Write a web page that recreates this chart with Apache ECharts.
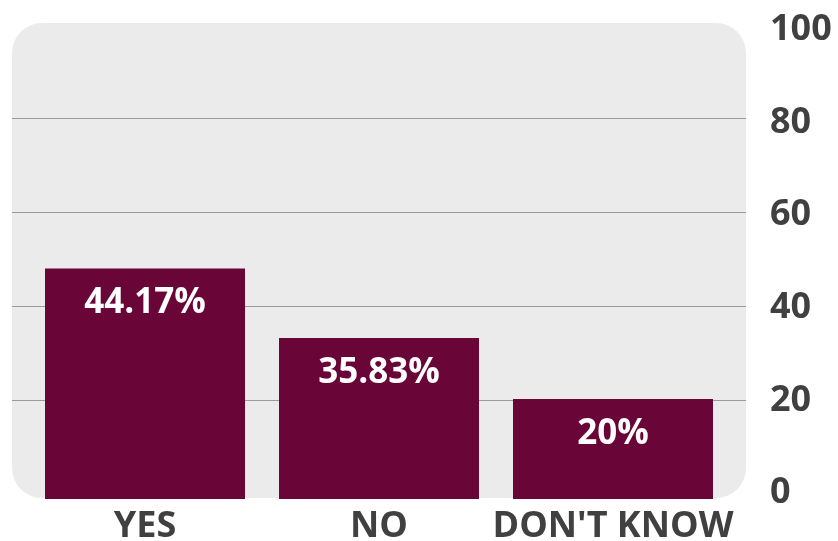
<!DOCTYPE html>
<html><head><meta charset="utf-8">
<script src="https://cdn.jsdelivr.net/npm/echarts@6/dist/echarts.min.js"></script>
<style>html,body{margin:0;padding:0;background:#fff}#c{width:838px;height:541px}</style>
</head><body><div id="c"></div>
<script>
const categories = ['YES', 'NO', "DON'T KNOW"];
const barValues = [48.4, 33.8, 21.0];
const labelTexts = ['44.17%', '35.83%', '20%'];
const yTicks = [0, 20, 40, 60, 80, 100];

const chart = echarts.init(document.getElementById('c'));
const FONT = '"Open Sans", "Liberation Sans", sans-serif';
const yMin = yTicks[0], yMax = yTicks[yTicks.length - 1];
chart.setOption({
  animation: false,
  graphic: [{
    type: 'rect', z: -10, silent: true,
    shape: { x: 12, y: 23, width: 734, height: 475, r: 30 },
    style: { fill: '#ebebeb' }
  }],
  grid: [
    { left: 12, top: 24, width: 734, height: 470, outerBoundsMode: 'none', containLabel: false },
    { left: 28, top: 23, width: 702, height: 476, outerBoundsMode: 'none', containLabel: false },
    { left: 12, top: 30, width: 734, height: 463, outerBoundsMode: 'none', containLabel: false }
  ],
  xAxis: [
    { type: 'category', gridIndex: 0, data: categories, show: false },
    { type: 'category', gridIndex: 1, data: categories,
      axisLine: { show: false }, axisTick: { show: false },
      axisLabel: { color: '#404040', fontFamily: FONT, fontWeight: 'bold', fontSize: 36, margin: 10, interval: 0 } },
    { type: 'category', gridIndex: 2, data: categories, show: false }
  ],
  yAxis: [
    { type: 'value', gridIndex: 0, min: yMin, max: yMax, interval: 20,
      axisLine: { show: false }, axisTick: { show: false }, axisLabel: { show: false },
      splitLine: { show: true, lineStyle: { width: 1, color: ['transparent', '#9a9a9a', '#9a9a9a', '#9a9a9a', '#9a9a9a', 'transparent'] } } },
    { type: 'value', gridIndex: 1, min: 0, max: 100, show: false, splitLine: { show: false } },
    { type: 'value', gridIndex: 2, position: 'right', min: yMin, max: yMax, interval: 20,
      axisLine: { show: false }, axisTick: { show: false }, splitLine: { show: false },
      axisLabel: { color: '#404040', fontFamily: FONT, fontWeight: 'bold', fontSize: 36, margin: 24 } }
  ],
  series: [{
    type: 'bar', xAxisIndex: 1, yAxisIndex: 1,
    data: barValues, barWidth: 200,
    itemStyle: { color: '#6a0538' },
    label: {
      show: true, position: 'insideTop', distance: 17,
      color: '#ffffff', fontFamily: FONT, fontWeight: 'bold', fontSize: 35,
      formatter: p => labelTexts[p.dataIndex]
    }
  }]
});
</script></body></html>
